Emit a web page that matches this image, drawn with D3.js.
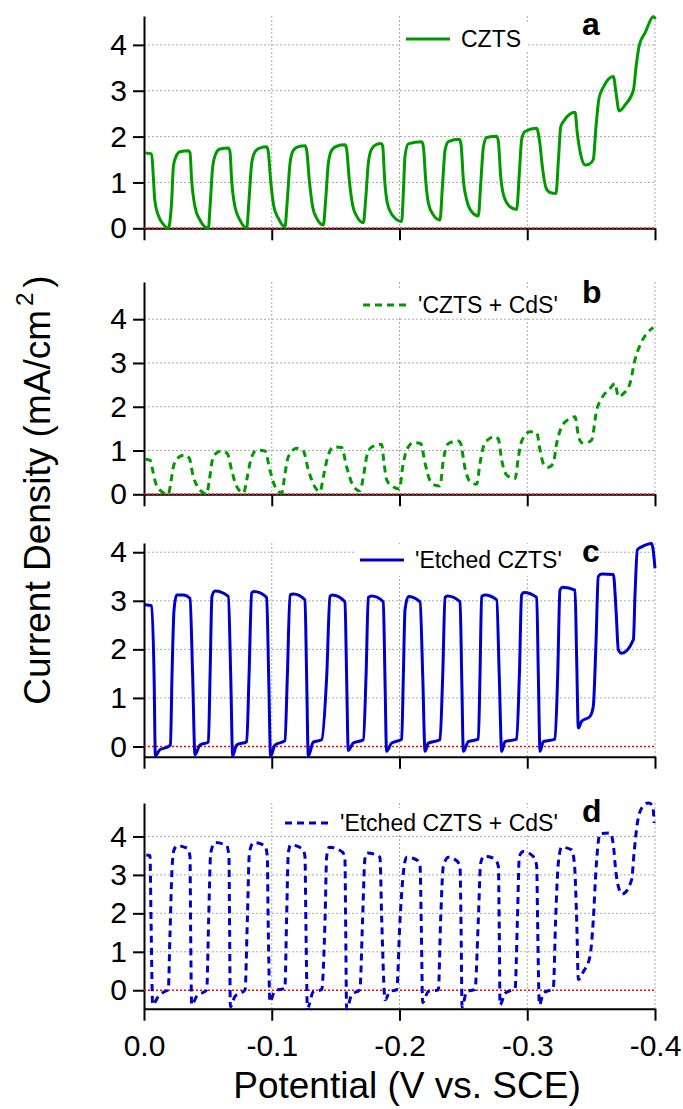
<!DOCTYPE html>
<html>
<head>
<meta charset="utf-8">
<script src="https://cdn.jsdelivr.net/npm/d3@7"></script>
<style>
  body { margin: 0; background: #fff; }
  svg text { font-family: "Liberation Sans", Arial, sans-serif; }
</style>
</head>
<body>
<div id="chart"></div>
<script>
// chopped-light LSV, four samples, potential in V vs SCE, current in mA/cm2
const potentialTicks = [0, -0.1, -0.2, -0.3, -0.4];
const currentTicks = [0, 1, 2, 3, 4];
const panelLetters = ["a", "b", "c", "d"];
const seriesNames = ["CZTS", "'CZTS + CdS'", "'Etched CZTS'", "'Etched CZTS + CdS'"];

const czts = [
  [-0.0008,1.64],[-0.006,1.62],[-0.0073,1.13],[-0.0084,0.62],[-0.0111,0.29],[-0.015,0.09],[-0.019,0.0],
  [-0.0217,0.62],[-0.023,1.35],[-0.0251,1.57],[-0.0282,1.67],[-0.0347,1.69],
  [-0.036,1.65],[-0.0373,1.05],[-0.0399,0.47],[-0.0438,0.18],[-0.0504,0.0],
  [-0.0517,0.47],[-0.0538,1.35],[-0.0564,1.64],[-0.0595,1.73],[-0.066,1.75],
  [-0.0673,1.67],[-0.0686,1.05],[-0.0712,0.47],[-0.0751,0.18],[-0.0804,0.01],
  [-0.0822,0.62],[-0.0843,1.42],[-0.0869,1.67],[-0.0908,1.75],[-0.096,1.78],
  [-0.0973,1.67],[-0.0991,1.05],[-0.1017,0.47],[-0.1051,0.22],[-0.1103,0.03],
  [-0.1122,0.62],[-0.1143,1.42],[-0.1169,1.70],[-0.1208,1.78],[-0.126,1.80],
  [-0.1273,1.71],[-0.1294,1.05],[-0.132,0.47],[-0.1351,0.22],[-0.1404,0.07],
  [-0.1422,0.62],[-0.1443,1.42],[-0.1469,1.70],[-0.1508,1.79],[-0.1573,1.82],
  [-0.1586,1.73],[-0.1607,1.05],[-0.1633,0.51],[-0.1664,0.27],[-0.1717,0.12],
  [-0.1735,0.62],[-0.1756,1.42],[-0.1782,1.73],[-0.1821,1.83],[-0.1855,1.85],
  [-0.1868,1.80],[-0.1884,1.05],[-0.1905,0.55],[-0.1952,0.26],[-0.2017,0.15],
  [-0.203,0.77],[-0.2043,1.57],[-0.2069,1.84],[-0.2174,1.89],
  [-0.2187,1.78],[-0.2205,1.05],[-0.2226,0.55],[-0.2265,0.29],[-0.2317,0.18],
  [-0.2336,0.91],[-0.2357,1.71],[-0.2383,1.89],[-0.2469,1.94],
  [-0.2482,1.82],[-0.25,1.05],[-0.2526,0.62],[-0.2565,0.36],[-0.2617,0.27],
  [-0.2636,0.98],[-0.2657,1.78],[-0.2683,1.98],[-0.2761,2.01],
  [-0.2774,1.89],[-0.2792,1.13],[-0.2818,0.69],[-0.2865,0.47],[-0.2917,0.41],
  [-0.2938,1.20],[-0.2956,1.93],[-0.2982,2.11],[-0.3074,2.18],
  [-0.3095,1.93],[-0.3121,1.28],[-0.3147,0.88],[-0.3178,0.78],[-0.3225,0.76],
  [-0.3244,1.49],[-0.3262,2.21],[-0.3288,2.35],[-0.3374,2.53],
  [-0.3392,2.07],[-0.3419,1.60],[-0.3453,1.38],[-0.3486,1.40],[-0.3517,1.50],
  [-0.3538,2.21],[-0.3562,2.84],[-0.3596,3.08],[-0.3674,3.31],
  [-0.3695,2.95],[-0.3719,2.56],[-0.3766,2.69],[-0.3831,3.01],
  [-0.3852,3.53],[-0.3878,4.00],[-0.3922,4.26],[-0.3988,4.62],[-0.4003,4.56]
];

const cztsCds = [
  [-0.0008,0.80],[-0.0047,0.78],[-0.0068,0.55],[-0.0084,0.33],[-0.0123,0.10],[-0.019,0.0],
  [-0.0209,0.25],[-0.023,0.63],[-0.0261,0.82],[-0.0321,0.90],
  [-0.0355,0.82],[-0.0386,0.40],[-0.0418,0.18],[-0.0452,0.06],[-0.0491,0.01],
  [-0.0512,0.33],[-0.0535,0.78],[-0.057,0.95],[-0.0609,0.99],
  [-0.0653,0.93],[-0.0686,0.55],[-0.0725,0.18],[-0.0778,0.03],
  [-0.0809,0.40],[-0.0835,0.78],[-0.0882,1.01],[-0.0947,0.99],
  [-0.0986,0.55],[-0.1025,0.18],[-0.1078,0.03],
  [-0.1104,0.48],[-0.113,0.86],[-0.1195,1.05],[-0.1247,0.99],
  [-0.1287,0.55],[-0.1339,0.16],[-0.1378,0.06],
  [-0.1404,0.40],[-0.1435,0.82],[-0.1482,1.08],[-0.1547,1.07],
  [-0.1586,0.63],[-0.1638,0.19],[-0.169,0.08],
  [-0.1717,0.40],[-0.1743,0.86],[-0.1782,1.08],[-0.186,1.14],
  [-0.1879,0.71],[-0.19,0.33],[-0.1947,0.18],[-0.1999,0.12],
  [-0.2025,0.63],[-0.2056,1.01],[-0.2108,1.18],[-0.2166,1.16],
  [-0.22,0.71],[-0.2239,0.31],[-0.2278,0.21],[-0.2317,0.19],
  [-0.2343,0.78],[-0.2383,1.16],[-0.2461,1.22],[-0.2479,1.16],
  [-0.2513,0.59],[-0.2552,0.29],[-0.2604,0.23],
  [-0.263,0.71],[-0.2669,1.18],[-0.2748,1.32],[-0.2774,1.26],
  [-0.28,0.78],[-0.2839,0.44],[-0.2905,0.36],
  [-0.2931,0.86],[-0.2957,1.22],[-0.3022,1.43],[-0.3074,1.41],
  [-0.31,1.01],[-0.3131,0.67],[-0.3165,0.62],[-0.3204,0.71],
  [-0.323,1.16],[-0.3269,1.54],[-0.3335,1.73],[-0.3374,1.77],
  [-0.34,1.35],[-0.3426,1.18],[-0.3465,1.18],[-0.3504,1.24],
  [-0.3543,1.92],[-0.3582,2.19],[-0.3648,2.42],[-0.3687,2.53],
  [-0.3713,2.23],[-0.3752,2.30],[-0.3804,2.53],[-0.3843,3.07],
  [-0.3883,3.41],[-0.3935,3.67],[-0.3987,3.81]
];

const etchedCzts = [
  [-0.0008,2.92],[-0.006,2.90],[-0.0079,1.44],[-0.0089,-0.19],[-0.0123,-0.07],[-0.0175,-0.02],[-0.0207,0.03],
  [-0.0219,1.44],[-0.0235,2.81],[-0.0256,3.12],[-0.0308,3.12],[-0.036,3.05],
  [-0.0381,1.44],[-0.0399,-0.17],[-0.0438,0.03],[-0.0504,0.09],
  [-0.0517,1.44],[-0.0532,3.09],[-0.0556,3.20],[-0.066,3.09],
  [-0.0679,1.44],[-0.0694,-0.19],[-0.0725,0.03],[-0.0804,0.10],
  [-0.0822,1.44],[-0.0843,3.16],[-0.0861,3.19],[-0.096,3.07],
  [-0.0976,1.44],[-0.0991,-0.20],[-0.1025,0.03],[-0.1103,0.12],
  [-0.1122,1.44],[-0.1143,3.12],[-0.1169,3.14],[-0.126,3.02],
  [-0.1273,1.44],[-0.1286,-0.20],[-0.1325,0.09],[-0.1391,0.14],
  [-0.143,1.44],[-0.1456,3.09],[-0.1474,3.12],[-0.1573,2.98],
  [-0.1586,1.44],[-0.1599,-0.08],[-0.1638,0.07],[-0.1717,0.14],
  [-0.1738,1.44],[-0.1756,3.07],[-0.1782,3.10],[-0.1873,2.98],
  [-0.1886,1.44],[-0.1899,-0.10],[-0.1938,0.07],[-0.2017,0.15],
  [-0.203,1.44],[-0.2043,2.81],[-0.2069,3.09],[-0.2161,2.98],
  [-0.2182,1.44],[-0.22,-0.10],[-0.2226,0.07],[-0.2317,0.14],
  [-0.2338,1.44],[-0.2357,3.07],[-0.2375,3.10],[-0.2474,2.98],
  [-0.2487,1.44],[-0.25,-0.10],[-0.2539,0.10],[-0.2617,0.15],
  [-0.263,1.44],[-0.2643,3.09],[-0.2669,3.12],[-0.2761,3.02],
  [-0.2781,1.44],[-0.28,-0.10],[-0.2826,0.10],[-0.2917,0.15],
  [-0.2938,1.44],[-0.2956,3.12],[-0.2974,3.17],[-0.3074,3.07],
  [-0.3087,1.44],[-0.31,-0.10],[-0.3126,0.10],[-0.3217,0.15],
  [-0.3238,1.44],[-0.3256,3.22],[-0.3277,3.28],[-0.3374,3.22],
  [-0.3387,1.78],[-0.34,0.38],[-0.3426,0.52],[-0.3491,0.62],[-0.3517,0.83],
  [-0.3538,2.13],[-0.3556,3.50],[-0.3582,3.55],[-0.3674,3.54],
  [-0.3695,2.81],[-0.3713,1.99],[-0.3739,1.92],[-0.3831,2.20],
  [-0.3844,3.16],[-0.3862,4.05],[-0.3896,4.11],[-0.3974,4.18],[-0.4,3.67]
];

const etchedCztsCds = [
  [-0.0018,3.52],[-0.0047,3.50],[-0.0055,1.83],[-0.0068,-0.38],[-0.0112,-0.16],[-0.0164,-0.03],[-0.019,0.01],
  [-0.0203,1.40],[-0.0219,3.13],[-0.0235,3.65],[-0.0261,3.76],[-0.0339,3.69],
  [-0.036,3.48],[-0.0365,1.57],[-0.0373,-0.38],[-0.0412,-0.16],[-0.0491,0.01],
  [-0.0506,1.83],[-0.0522,3.57],[-0.0556,3.84],[-0.0647,3.76],
  [-0.0665,3.48],[-0.067,1.57],[-0.0676,-0.43],[-0.0712,-0.16],[-0.0791,0.01],
  [-0.0809,1.83],[-0.0825,3.57],[-0.0856,3.84],[-0.0947,3.76],
  [-0.0965,3.48],[-0.0973,1.57],[-0.0986,-0.30],[-0.1025,-0.01],[-0.1103,0.05],
  [-0.1116,1.83],[-0.113,3.57],[-0.1148,3.78],[-0.1242,3.67],
  [-0.126,3.48],[-0.1268,1.57],[-0.1279,-0.47],[-0.1325,-0.04],[-0.1391,0.02],
  [-0.1417,1.83],[-0.143,3.48],[-0.1451,3.72],[-0.1555,3.59],
  [-0.1573,3.39],[-0.1579,1.57],[-0.1586,-0.49],[-0.1625,-0.12],[-0.169,0.02],
  [-0.1711,1.83],[-0.1729,3.41],[-0.1748,3.57],[-0.1847,3.46],
  [-0.1861,1.83],[-0.1887,-0.25],[-0.1926,-0.03],[-0.1978,0.01],
  [-0.2004,1.83],[-0.2025,2.87],[-0.2056,3.46],[-0.2134,3.39],
  [-0.2161,3.22],[-0.2171,1.57],[-0.2181,-0.32],[-0.2226,-0.03],[-0.2304,0.01],
  [-0.2322,1.83],[-0.2343,3.22],[-0.2383,3.46],[-0.2453,3.35],
  [-0.2474,3.17],[-0.2482,1.57],[-0.249,-0.43],[-0.2526,-0.03],[-0.2591,0.02],
  [-0.2617,1.83],[-0.2635,3.30],[-0.2661,3.49],[-0.2748,3.41],
  [-0.2774,3.22],[-0.2781,1.57],[-0.2787,-0.38],[-0.2826,-0.08],[-0.2905,0.05],
  [-0.2923,1.83],[-0.2938,3.48],[-0.2969,3.61],[-0.3053,3.46],
  [-0.3074,3.22],[-0.3082,1.57],[-0.3095,-0.38],[-0.3126,-0.08],[-0.3204,0.05],
  [-0.3222,1.83],[-0.3243,3.30],[-0.3269,3.72],[-0.3348,3.65],
  [-0.3369,3.30],[-0.3387,1.83],[-0.34,0.28],[-0.3439,0.48],[-0.3491,0.88],
  [-0.3517,1.83],[-0.3538,3.13],[-0.3569,4.07],[-0.3648,4.09],
  [-0.3674,3.78],[-0.3692,3.13],[-0.3713,2.70],[-0.3744,2.50],[-0.3817,2.87],
  [-0.3836,3.57],[-0.3862,4.35],[-0.3896,4.74],[-0.3948,4.87],[-0.3982,4.80],[-0.3993,4.35]
];

const allSeries = [czts, cztsCds, etchedCzts, etchedCztsCds];

// layout
const width = 683;
const height = 1109;
const plotLeft = 144;
const plotRight = 655;
const panelTop = [16, 282, 543, 803];
const panelBottom = [228.3, 494.3, 756.7, 1008.7];
const yDomains = [[0, 4.63], [0, 4.85], [-0.21, 4.19], [-0.48, 4.87]];
const lineColors = ["#009a00", "#009a00", "#0000cc", "#0000cc"];
const lineDash = [null, "7,5", null, "7,5"];
const legendX = [406, 363, 360, 285];
const legendY = [39, 305, 560, 823];
const legendBox = [[400, 24, 128, 27], [357, 290, 210, 26], [354, 544, 228, 32], [279, 808, 290, 26]];
const letterY = [35, 303, 562, 822];

const svg = d3.select("#chart").append("svg")
    .attr("width", width)
    .attr("height", height);

const x = d3.scaleLinear().domain([0, -0.4]).range([plotLeft, plotRight]);

allSeries.forEach(function(series, i) {
  const y = d3.scaleLinear().domain(yDomains[i]).range([panelBottom[i], panelTop[i]]);
  const g = svg.append("g");

  // dotted grid
  g.selectAll(".hgrid")
    .data(currentTicks.filter(d => d > 0))
    .enter().append("line")
    .attr("x1", plotLeft).attr("x2", plotRight)
    .attr("y1", d => y(d)).attr("y2", d => y(d))
    .attr("stroke", "#aaa").attr("stroke-width", 1).attr("stroke-dasharray", "2,2");

  g.selectAll(".vgrid")
    .data(potentialTicks.filter(d => d < 0))
    .enter().append("line")
    .attr("x1", d => x(d)).attr("x2", d => x(d))
    .attr("y1", panelTop[i]).attr("y2", panelBottom[i])
    .attr("stroke", "#aaa").attr("stroke-width", 1).attr("stroke-dasharray", "2,2");

  // legend background
  const b = legendBox[i];
  g.append("rect")
    .attr("x", b[0]).attr("y", b[1]).attr("width", b[2]).attr("height", b[3])
    .attr("fill", "#fff");

  // axes
  const yAxis = g.append("g")
    .attr("transform", "translate(" + plotLeft + ",0)")
    .call(d3.axisLeft(y).tickValues(currentTicks).tickSize(11).tickSizeOuter(0).tickPadding(6).tickFormat(d3.format("d")));
  yAxis.select(".domain").attr("stroke-width", 2);
  yAxis.selectAll(".tick line").attr("stroke-width", 2);
  yAxis.selectAll("text").attr("font-size", 30).attr("fill", "#000")
    .style("font-family", "'Liberation Sans', Arial, sans-serif");

  const xAxis = g.append("g")
    .attr("transform", "translate(0," + panelBottom[i] + ")")
    .call(d3.axisBottom(x).tickValues(potentialTicks).tickSize(12).tickSizeOuter(0).tickPadding(14)
      .tickFormat(i === 3 ? (d => d.toFixed(1)) : ""));
  xAxis.select(".domain").attr("stroke-width", 2);
  xAxis.selectAll(".tick line").attr("stroke-width", 2);
  xAxis.selectAll("text").attr("font-size", 30).attr("fill", "#000")
    .style("font-family", "'Liberation Sans', Arial, sans-serif");

  // zero line
  g.append("line")
    .attr("x1", plotLeft).attr("x2", plotRight)
    .attr("y1", y(0)).attr("y2", y(0))
    .attr("stroke", "#ff0000").attr("stroke-width", 1.5).attr("stroke-dasharray", "2,2");

  // curve
  const line = d3.line()
    .x(d => x(d[0]))
    .y(d => y(d[1]))
    .curve(d3.curveMonotoneX);

  g.append("path")
    .datum(series)
    .attr("fill", "none")
    .attr("stroke", lineColors[i])
    .attr("stroke-width", 3)
    .attr("stroke-dasharray", lineDash[i])
    .attr("d", line);

  // legend
  g.append("line")
    .attr("x1", legendX[i]).attr("x2", legendX[i] + 44)
    .attr("y1", legendY[i]).attr("y2", legendY[i])
    .attr("stroke", lineColors[i])
    .attr("stroke-width", 3)
    .attr("stroke-dasharray", lineDash[i]);

  g.append("text")
    .attr("x", legendX[i] + 55)
    .attr("y", legendY[i] + 8)
    .attr("font-size", 23)
    .text(seriesNames[i]);

  g.append("text")
    .attr("x", 582)
    .attr("y", letterY[i])
    .attr("font-size", 32)
    .attr("font-weight", "bold")
    .text(panelLetters[i]);
});

// axis titles
svg.append("text")
  .attr("x", 407)
  .attr("y", 1098)
  .attr("text-anchor", "middle")
  .attr("font-size", 37)
  .text("Potential (V vs. SCE)");

const yTitle = svg.append("text")
  .attr("transform", "translate(50,490) rotate(-90)")
  .attr("text-anchor", "middle")
  .attr("font-size", 37);
yTitle.append("tspan").text("Current Density (mA/cm");
yTitle.append("tspan").attr("dy", -17).attr("dx", 4).attr("font-size", 24).text("2");
yTitle.append("tspan").attr("dy", 17).attr("dx", 5).text(")");
</script>
</body>
</html>
